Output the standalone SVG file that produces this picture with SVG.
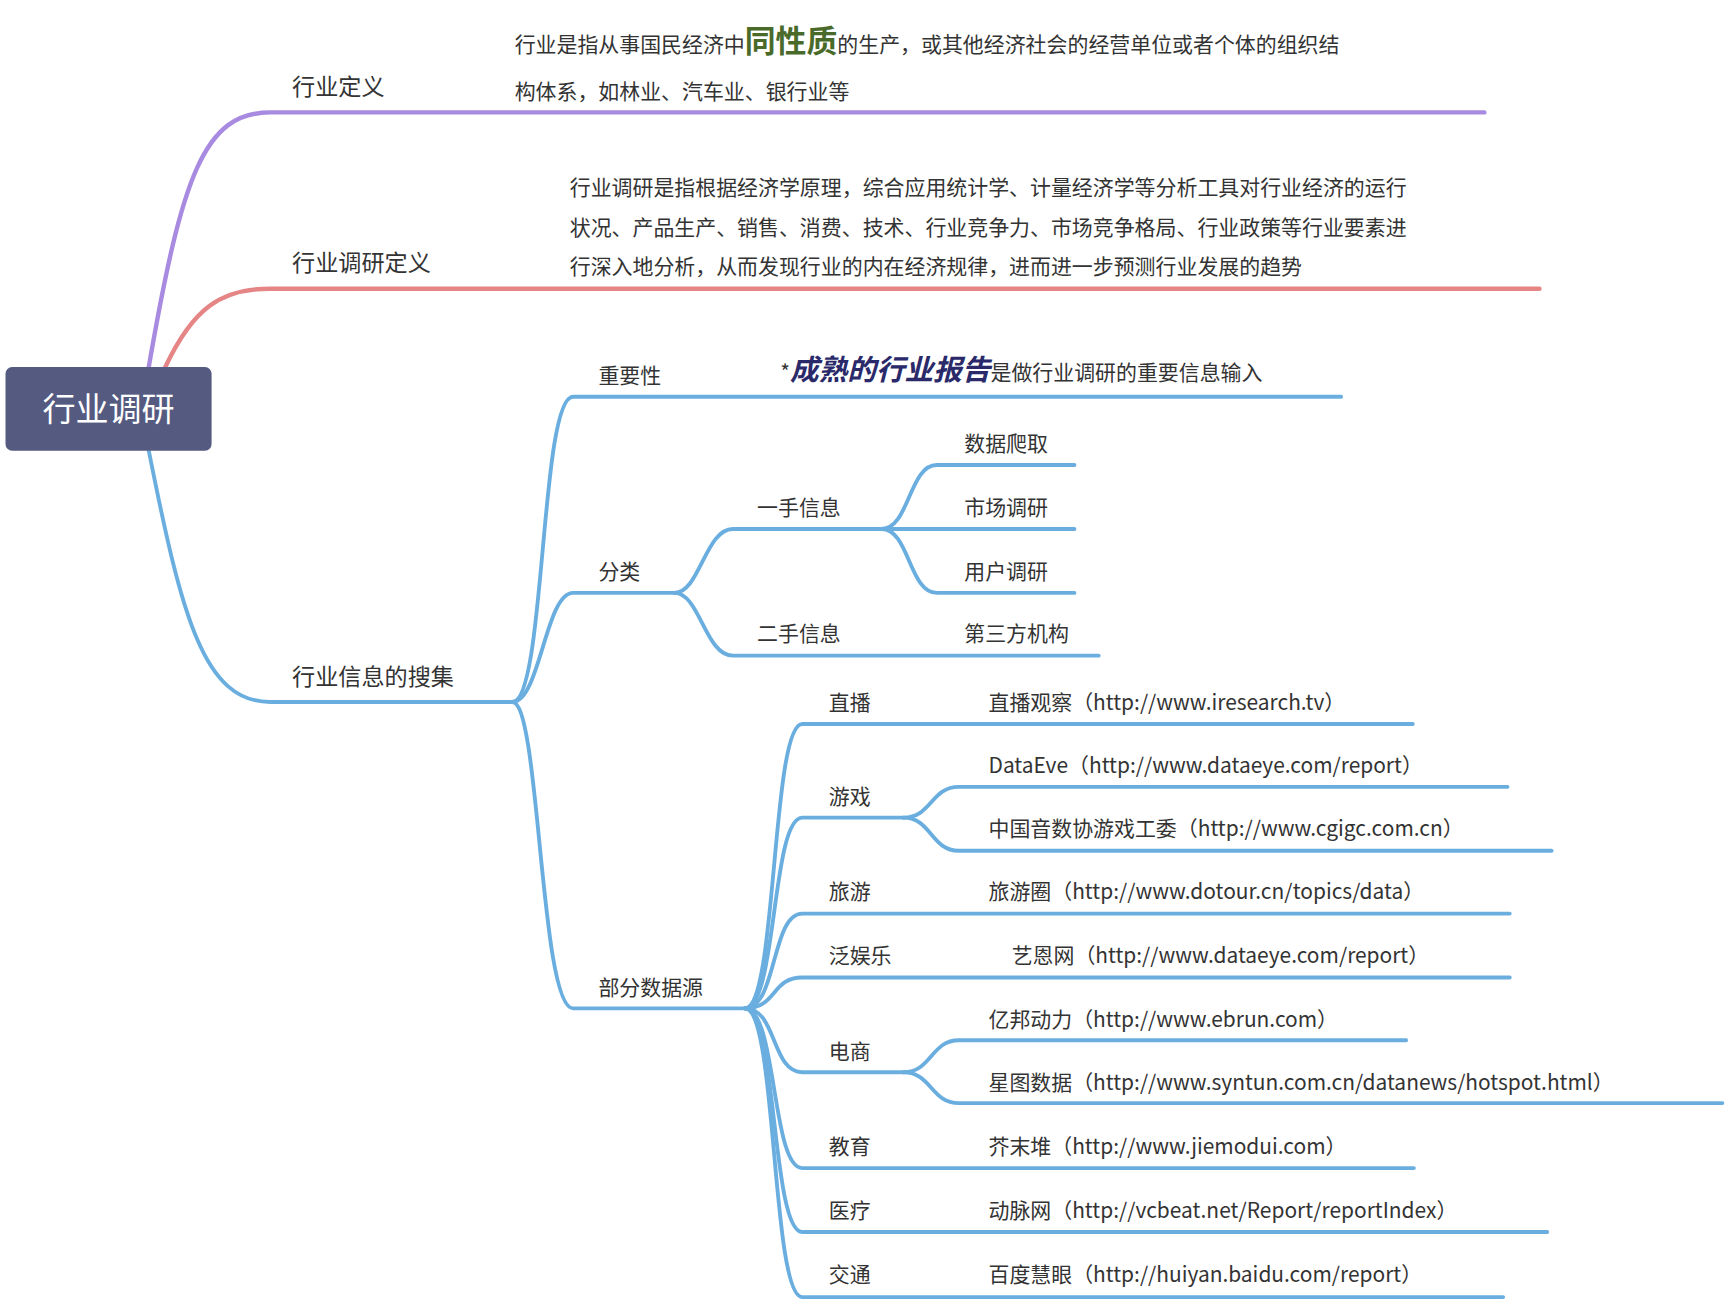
<svg xmlns="http://www.w3.org/2000/svg" width="1728" height="1300" viewBox="0 0 1728 1300">
<style>
text{font-family:"Noto Sans CJK SC","Noto Sans",sans-serif;fill:#333;font-size:19px}
.l{font-size:21px}
.c{fill:none;stroke-linecap:round}
.b{stroke:#6aaee0;stroke-width:3.5}
</style>
<rect width="1728" height="1300" fill="#fff"/>
<g transform="scale(1.102)">
<g id="connectors">
<path class="c" stroke="#a88be0" stroke-width="4" d="M135 333 C165 160 185 102 245 102 L1347 102"/>
<path class="c" stroke="#e58585" stroke-width="4" d="M150 333 C175 280 200 262 245 262 L1397 262"/>
<path class="c b" stroke-width="4" d="M135 409 C165 560 185 637 245 637 L465 637"/>
<path class="c b" d="M465 637 C495 637 490 360 520 360 L1217 360"/>
<path class="c b" d="M465 637 C490 637 495 538 520 538 L612 538"/>
<path class="c b" d="M465 637 C490 637 490 915 520 915 L676 915"/>
<path class="c b" d="M612 538 C635 538 640 480 665 480 L800 480"/>
<path class="c b" d="M612 538 C635 538 640 595 665 595 L997 595"/>
<path class="c b" d="M800 480 C825 480 825 422 850 422 L975 422"/>
<path class="c b" d="M800 480 L975 480"/>
<path class="c b" d="M800 480 C825 480 825 538 850 538 L975 538"/>
<path class="c b" d="M676 915 C705 915 700 657 728 657 L1282 657"/>
<path class="c b" d="M676 915 C705 915 700 742 728 742 L820 742"/>
<path class="c b" d="M676 915 C705 915 700 829 728 829 L1370 829"/>
<path class="c b" d="M676 915 C705 915 700 887 728 887 L1370 887"/>
<path class="c b" d="M676 915 C705 915 700 973 728 973 L820 973"/>
<path class="c b" d="M676 915 C705 915 700 1060 728 1060 L1283 1060"/>
<path class="c b" d="M676 915 C705 915 700 1118 728 1118 L1404 1118"/>
<path class="c b" d="M676 915 C705 915 700 1177 728 1177 L1364 1177"/>
<path class="c b" d="M820 742 C845 742 845 714 870 714 L1368 714"/>
<path class="c b" d="M820 742 C845 742 845 772 870 772 L1408 772"/>
<path class="c b" d="M820 973 C845 973 845 944 870 944 L1276 944"/>
<path class="c b" d="M820 973 C845 973 845 1001 870 1001 L1563 1001"/>
</g>
<g id="root"><rect x="5" y="333" width="187" height="76" rx="6" fill="#545a80"/><text x="98.5" y="382" text-anchor="middle" style="fill:#fff;font-size:30px">行业调研</text></g>
<g id="n-def"><text class="l" x="265" y="86">行业定义</text>
<text x="467" y="47">行业是指从事国民经济中<tspan style="font-size:28px;font-weight:bold;fill:#4a6a2a">同性质</tspan>的生产，或其他经济社会的经营单位或者个体的组织结</text>
<text x="467" y="90">构体系，如林业、汽车业、银行业等</text></g>
<g id="n-rdef"><text class="l" x="265" y="246">行业调研定义</text>
<text x="517" y="177">行业调研是指根据经济学原理，综合应用统计学、计量经济学等分析工具对行业经济的运行</text>
<text x="517" y="213">状况、产品生产、销售、消费、技术、行业竞争力、市场竞争格局、行业政策等行业要素进</text>
<text x="517" y="249">行深入地分析，从而发现行业的内在经济规律，进而进一步预测行业发展的趋势</text></g>
<g id="n-collect"><text class="l" x="265" y="622">行业信息的搜集</text></g>
<g id="n-imp"><text x="543" y="348">重要性</text><text x="708" y="345">*<tspan style="font-size:26px;font-weight:bold;font-style:italic;fill:#2a2a6a">成熟的行业报告</tspan>是做行业调研的重要信息输入</text></g>
<g id="n-cls"><text x="543" y="525">分类</text></g>
<g id="n-first"><text x="687" y="467">一手信息</text></g>
<g id="n-crawl"><text x="875" y="409">数据爬取</text></g>
<g id="n-market"><text x="875" y="467">市场调研</text></g>
<g id="n-user"><text x="875" y="525">用户调研</text></g>
<g id="n-second"><text x="687" y="582">二手信息</text><text x="875" y="582">第三方机构</text></g>
<g id="n-src"><text x="543" y="903">部分数据源</text></g>
<g id="n-live"><text x="752" y="644">直播</text><text x="897" y="644">直播观察（http://www.iresearch.tv）</text></g>
<g id="n-game"><text x="752" y="730">游戏</text><text x="897" y="701">DataEve（http://www.dataeye.com/report）</text><text x="897" y="759">中国音数协游戏工委（http://www.cgigc.com.cn）</text></g>
<g id="n-travel"><text x="752" y="816">旅游</text><text x="897" y="816">旅游圈（http://www.dotour.cn/topics/data）</text></g>
<g id="n-ent"><text x="752" y="874">泛娱乐</text><text x="918" y="874">艺恩网（http://www.dataeye.com/report）</text></g>
<g id="n-ecom"><text x="752" y="961">电商</text><text x="897" y="932">亿邦动力（http://www.ebrun.com）</text><text x="897" y="989">星图数据（http://www.syntun.com.cn/datanews/hotspot.html）</text></g>
<g id="n-edu"><text x="752" y="1047">教育</text><text x="897" y="1047">芥末堆（http://www.jiemodui.com）</text></g>
<g id="n-med"><text x="752" y="1105">医疗</text><text x="897" y="1105">动脉网（http://vcbeat.net/Report/reportIndex）</text></g>
<g id="n-traffic"><text x="752" y="1163">交通</text><text x="897" y="1163">百度慧眼（http://huiyan.baidu.com/report）</text></g>
</g>
</svg>
